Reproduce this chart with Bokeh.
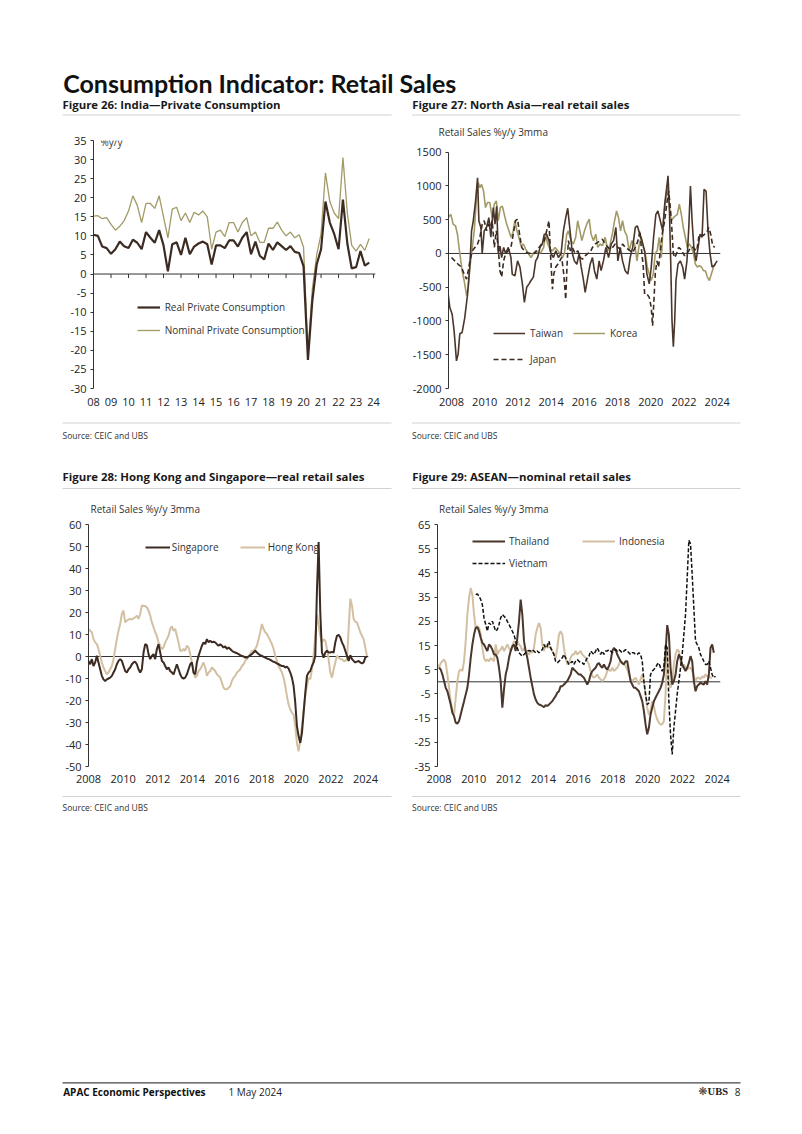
import math
from bokeh.plotting import figure
from bokeh.models import Range1d, FixedTicker, Span, Legend, LegendItem, Label, Spacer
from bokeh.layouts import column, row
from bokeh.embed import file_html
from bokeh.resources import INLINE
from bokeh.core.properties import value

FONT = "Open Sans"
TFONT = "Lato"

DARK = "#3c2b22"
BROWN = "#4a362b"
OLIVE = "#a29a67"
TAN = "#d3c0a2"
AXIS = "#333333"
GREY_RULE = "#d2d2d2"

# ---------------- Figure 26: India (quarterly, 2008Q1-2023Q4) ----------------
INDIA_START = 2008.0
INDIA_STEP = 0.25
india_real = [10.3, 10.0, 7.2, 6.8, 5.3, 6.5, 8.5, 7.3, 6.8, 9.0, 8.2, 6.5,
              11.0, 9.5, 8.2, 11.5, 7.5, 0.7, 7.8, 8.3, 5.0, 9.5, 5.2, 7.2,
              8.0, 8.5, 7.8, 2.5, 7.5, 7.5, 6.8, 8.8, 8.8, 7.2, 9.5, 11.0,
              5.2, 8.5, 4.8, 3.8, 8.0, 6.3, 8.3, 7.3, 6.3, 7.3, 5.8, 5.5,
              2.0, -22.5, -7.0, 2.5, 6.5, 19.0, 13.5, 10.5, 6.5, 19.5, 8.0, 1.5,
              1.8, 6.0, 2.2, 3.0]
india_nominal = [15.2, 15.3, 14.5, 14.8, 13.0, 11.5, 12.5, 14.0, 16.5, 20.5, 18.0, 13.5,
                 18.5, 18.5, 17.2, 20.5, 15.0, 9.5, 17.0, 17.5, 14.0, 16.0, 13.5, 16.2,
                 15.5, 16.5, 15.0, 6.5, 11.0, 11.5, 9.8, 13.5, 13.5, 11.0, 13.5, 14.8,
                 10.0, 11.0, 8.3, 8.3, 12.0, 12.0, 13.6, 11.5, 10.0, 11.0, 9.5, 10.3,
                 7.0, -20.5, -4.0, 5.0, 10.5, 26.5, 19.0, 16.0, 14.5, 30.5, 16.0, 7.5,
                 6.0, 7.8, 6.2, 9.3]
india_yticks = list(range(-30, 40, 5))
india_years = list(range(2008, 2025))
india_year_labels = {y: "%02d" % (y % 100) for y in india_years}

# ---------------- Figure 27: North Asia (decimal year, value) ----------------
taiwan = [(2007.80, -600), (2007.90, -800), (2008.04, -900), (2008.16, -1150), (2008.30, -1590),
          (2008.40, -1490), (2008.50, -1190), (2008.64, -1170), (2008.80, -950), (2008.97, -600),
          (2009.11, -160), (2009.21, 335), (2009.31, 480), (2009.45, 780), (2009.57, 1120),
          (2009.65, 480), (2009.77, 385), (2009.85, 0), (2009.97, 335), (2010.11, 385),
          (2010.25, 530), (2010.37, 240), (2010.52, 680), (2010.62, 435), (2010.72, 700),
          (2010.82, 0), (2010.92, 110), (2011.02, -60), (2011.14, 90), (2011.26, 0),
          (2011.42, 90), (2011.58, -60), (2011.66, -310), (2011.82, -330), (2011.98, -110),
          (2012.12, -200), (2012.27, -450), (2012.39, -725), (2012.53, -500), (2012.67, -450),
          (2012.79, -400), (2012.93, -350), (2013.07, -110), (2013.19, -60), (2013.33, 90),
          (2013.47, 140), (2013.59, 285), (2013.73, 285), (2013.87, 190), (2013.99, 0),
          (2014.14, -60), (2014.28, 40), (2014.44, -60), (2014.60, 0), (2014.74, 335),
          (2014.88, 530), (2015.00, 670), (2015.14, 335), (2015.28, 0), (2015.40, -110),
          (2015.55, -160), (2015.69, 0), (2015.81, -200), (2015.95, -400), (2016.05, -575),
          (2016.21, -350), (2016.35, -160), (2016.49, -60), (2016.61, -255), (2016.75, -380),
          (2016.89, -110), (2017.01, -255), (2017.15, -110), (2017.30, 90), (2017.46, -60),
          (2017.62, 140), (2017.76, 190), (2017.90, 385), (2018.02, -110), (2018.16, 90),
          (2018.30, -110), (2018.46, -255), (2018.62, -305), (2018.76, -60), (2018.91, 90),
          (2019.07, 385), (2019.19, 410), (2019.31, 310), (2019.47, 190), (2019.63, 40),
          (2019.77, -305), (2019.91, -450), (2020.03, -200), (2020.17, 240), (2020.31, 580),
          (2020.43, 630), (2020.58, 480), (2020.72, 335), (2020.84, 730), (2020.96, 975),
          (2021.04, 1150), (2021.12, 680), (2021.20, -110), (2021.28, -1000), (2021.36, -1380),
          (2021.44, -1000), (2021.52, -400), (2021.64, -160), (2021.78, -110), (2021.92, -200),
          (2022.04, -380), (2022.18, -110), (2022.29, 385), (2022.39, 1000), (2022.49, 480),
          (2022.61, 40), (2022.73, -110), (2022.85, 90), (2022.97, 285), (2023.09, 240),
          (2023.21, 950), (2023.33, 925), (2023.45, 335), (2023.57, 0), (2023.69, -200),
          (2023.81, -180), (2024.00, -110)]
korea = [(2007.80, 530), (2007.96, 580), (2008.10, 435), (2008.24, 410), (2008.36, 285),
         (2008.50, 0), (2008.64, -255), (2008.76, -400), (2008.91, -625), (2009.01, -500),
         (2009.11, -200), (2009.21, 0), (2009.37, 335), (2009.51, 830), (2009.61, 1050),
         (2009.71, 975), (2009.81, 1025), (2009.93, 925), (2010.05, 680), (2010.17, 755),
         (2010.31, 755), (2010.45, 530), (2010.58, 730), (2010.70, 780), (2010.82, 485),
         (2010.94, 680), (2011.06, 700), (2011.18, 580), (2011.32, 435), (2011.46, 335),
         (2011.58, 240), (2011.70, 310), (2011.82, 485), (2011.94, 335), (2012.06, 240),
         (2012.18, 115), (2012.33, 140), (2012.47, 65), (2012.63, 0), (2012.79, -60),
         (2012.93, 0), (2013.07, 40), (2013.23, 0), (2013.39, 15), (2013.55, 90),
         (2013.67, 285), (2013.79, 140), (2013.94, 65), (2014.08, 40), (2014.24, 90),
         (2014.40, 40), (2014.54, 0), (2014.68, -60), (2014.80, 0), (2014.94, 285),
         (2015.04, 335), (2015.20, 190), (2015.34, 140), (2015.48, 240), (2015.60, 485),
         (2015.73, 335), (2015.85, 190), (2016.01, 335), (2016.15, 435), (2016.29, 510),
         (2016.41, 285), (2016.55, 190), (2016.69, 285), (2016.81, 90), (2016.95, 140),
         (2017.09, 115), (2017.25, 240), (2017.42, 40), (2017.56, 140), (2017.70, 310),
         (2017.82, 485), (2017.94, 630), (2018.06, 530), (2018.18, 335), (2018.30, 485),
         (2018.42, 335), (2018.56, 260), (2018.70, 40), (2018.86, 190), (2019.03, 140),
         (2019.17, -110), (2019.31, 140), (2019.43, 240), (2019.55, 90), (2019.67, 0),
         (2019.79, -200), (2019.91, -305), (2020.03, -400), (2020.15, -305), (2020.27, 0),
         (2020.39, 40), (2020.51, 240), (2020.64, -60), (2020.76, 485), (2020.88, 780),
         (2021.00, 975), (2021.12, 680), (2021.24, 485), (2021.36, 530), (2021.48, 555),
         (2021.60, 580), (2021.72, 730), (2021.84, 580), (2021.96, 385), (2022.08, 240),
         (2022.20, 90), (2022.33, 140), (2022.45, 90), (2022.57, 0), (2022.69, -160),
         (2022.81, -200), (2022.93, -180), (2023.05, -200), (2023.17, -255), (2023.29, -255),
         (2023.41, -350), (2023.53, -400), (2023.65, -305), (2023.78, -200), (2023.90, -160)]
japan = [(2008.00, -60), (2008.20, -110), (2008.40, -160), (2008.60, -200), (2008.76, -305),
         (2008.91, -380), (2009.01, -255), (2009.11, -110), (2009.25, 40), (2009.41, 90),
         (2009.57, 140), (2009.71, 240), (2009.85, 435), (2009.97, 485), (2010.11, 335),
         (2010.21, 435), (2010.33, 385), (2010.45, 485), (2010.58, 90), (2010.70, 335),
         (2010.82, 65), (2010.92, -255), (2011.02, -350), (2011.14, -110), (2011.26, 0),
         (2011.42, 40), (2011.58, 90), (2011.72, 285), (2011.86, 485), (2011.98, 510),
         (2012.10, 285), (2012.23, 90), (2012.39, 40), (2012.53, 15), (2012.67, 0),
         (2012.83, 15), (2012.99, 0), (2013.13, 40), (2013.27, 90), (2013.43, 140),
         (2013.59, 190), (2013.73, 335), (2013.87, 485), (2013.96, 0), (2014.08, -530),
         (2014.16, -305), (2014.28, -200), (2014.40, -160), (2014.52, -110), (2014.64, -60),
         (2014.76, -305), (2014.88, -680), (2014.96, -160), (2015.04, 190), (2015.16, 40),
         (2015.28, 90), (2015.44, 0), (2015.61, 40), (2015.75, -60), (2015.89, -85),
         (2016.05, -35), (2016.21, 0), (2016.35, 15), (2016.49, 90), (2016.65, 140),
         (2016.81, 165), (2016.95, 190), (2017.09, 210), (2017.25, 140), (2017.42, 90),
         (2017.56, 65), (2017.70, 90), (2017.86, 140), (2018.02, 90), (2018.16, 65),
         (2018.30, 140), (2018.46, 90), (2018.62, 65), (2018.76, 40), (2018.91, 15),
         (2019.07, 90), (2019.23, 190), (2019.35, 335), (2019.43, 90), (2019.55, -200),
         (2019.63, -600), (2019.77, -600), (2019.91, -650), (2020.03, -800), (2020.11, -1070),
         (2020.19, -700), (2020.27, -305), (2020.37, -110), (2020.47, -200), (2020.60, 90),
         (2020.72, 335), (2020.84, 485), (2020.96, 730), (2021.08, 925), (2021.18, 680),
         (2021.28, 335), (2021.36, 0), (2021.44, -60), (2021.56, 0), (2021.68, 90),
         (2021.80, 65), (2021.92, 15), (2022.04, -35), (2022.17, 0), (2022.29, 40),
         (2022.41, 90), (2022.53, 90), (2022.65, 65), (2022.77, 40), (2022.89, 240),
         (2023.01, 285), (2023.13, 260), (2023.25, 285), (2023.37, 310), (2023.49, 385),
         (2023.61, 285), (2023.73, 115), (2023.85, 90)]
nasia_yticks = list(range(-2000, 2000, 500))

# ---------------- Figure 28: HK & Singapore (readings every ~0.0963 yr) ----------------
HKSG_START = 2008.0
HKSG_STEP = 0.0963
singapore = [-2, -3.5, -1.2, -4.3, -2.7, 0.3, -2.7, -5.8, -8.8, -10.4,
             -11.1, -10.4, -10, -9.6, -8.8, -7.3, -5.8, -3.5, -2, -1.2,
             -2, -4.3, -6.6, -7.3, -5.8, -5, -3.5, -2.7, -2.4, -3.5,
             -5.8, -7.3, -5.8, 1.8, 5.6, 5.2, 1.1, -1.2, 0.3, 1.1,
             -1.2, 3.4, 5.6, 1.8, -2, -2.7, -4.3, -5.8, -5, -6.6,
             -7.3, -8.1, -5.8, -3.5, -5.8, -8.1, -9.6, -10, -9.6, -8.1,
             -5.8, -3.5, -2.7, -7.3, -8.1, -2.7, 0.3, 2.6, 4.9, 6.4,
             5.6, 7.9, 6.4, 7.2, 6.4, 6.7, 6.4, 5.6, 4.9, 5.6,
             4.9, 4.1, 4.6, 3.4, 4.1, 3.4, 2.6, 2.1, 1.8, 1.5,
             1.1, 0.6, 0.3, 0, -0.5, -0.5, 0, 0.6, 1.1, 1.8,
             2.6, 1.8, 1.1, 0.6, 0.3, -0.2, -0.5, -0.9, -1.2, -1.5,
             -2, -2.4, -2.7, -3.2, -3.5, -4, -4.3, -4.3, -5, -4.6,
             -5.5, -7.3, -9.6, -13.4, -21, -31.7, -36.3, -39.3, -34.7, -25.6,
             -16.5, -8.8, -7.3, -6.6, -4.3, -2.7, 0.3, 30, 52, 20,
             1.8, -0.5, 1.8, 2.6, 1.8, 1.8, 2.1, 1.8, 6.4, 9.4,
             9.8, 8.7, 6.4, 4.9, 2.6, 0.3, -2, 0.6, -1.2, -2,
             -2.7, -2.3, -2, -2.7, -3.2, -2.7, -0.5, 0]
hongkong = [12.5, 11.7, 11, 7.9, 6.4, 5.6, 3.4, 0.3, -2.7, -5,
            -6.6, -8.1, -7.3, -5.8, -4.3, -1.2, 3.4, 7.9, 11.7, 14.8,
            19.3, 20.9, 15.5, 16.3, 16.8, 17.1, 16.8, 17.4, 17.8, 18.6,
            17.1, 19.3, 23.2, 22.9, 22.9, 22.4, 20.9, 18.6, 15.5, 13.3,
            11, 9.4, 6.4, 4.9, 3.4, 4.1, 6.4, 7.9, 9.4, 12.5,
            13.7, 11.7, 12.5, 9.4, 6.4, 2.6, 2.6, 3.4, 2.6, 4.9,
            4.1, 1.1, -2.7, -7.3, -9.6, -8.8, -6.6, -5.8, -4.3, -2.7,
            -5, -8.8, -7.3, -6.6, -5, -5.8, -6.6, -8.1, -8.8, -9.6,
            -11.9, -14.2, -14.9, -14.9, -14.2, -13.4, -11.1, -9.6, -8.8, -7.3,
            -6.6, -5.8, -4.3, -3.5, -2, -1.2, 0.3, 1.1, 2.6, 2.6,
            3.4, 4.9, 7.9, 11, 14.8, 12.5, 11, 10.2, 8.7, 7.2,
            5.6, 3.4, 0.3, -2, -4.3, -5.8, -7.3, -9.6, -13.4, -18,
            -21.8, -24.1, -25.6, -26.4, -31.7, -39.3, -43.1, -37.8, -31.7, -24.1,
            -18, -13.4, -9.6, -10.4, -5.8, 0.3, 9.4, 19.3, 14, 9.4,
            6.4, 7.9, 7.2, 3.4, -1.2, -7.3, -9.6, -5.8, -2.7, 0.3,
            -0.5, -1.2, -1.2, -2, -2, -1.2, 12.5, 26.2, 23.2, 17.1,
            15.8, 15.5, 13.3, 11, 9.4, 7.9, 4.1, 0.3]
hksg_yticks = list(range(-50, 70, 10))

# ---------------- Figure 29: ASEAN (readings every ~0.0958 yr) ----------------
ASEAN_STEP = 0.0958
THAI_START = 2008.0
INDO_START = 2007.904
VIET_START = 2010.107
thailand = [5.8, 5.1, 3, 0.3, -2.5, -3.9, -6.6, -9.4, -12.8, -14.2,
            -16.9, -17.3, -16.2, -13.5, -10.7, -8, -5.2, -2.5, 3, 9.9,
            15.4, 19.5, 22.3, 22.6, 20.9, 18.2, 16.1, 15.4, 14, 12.7,
            15.4, 14.7, 13.3, 11.3, 11.3, 9.9, 5.8, 0.3, -10.7, -3,
            3, 5.8, 9.9, 12.7, 14.7, 15.4, 12.7, 18.2, 25, 34,
            27.8, 16.8, 12.7, 9.9, 5.8, 1.7, -1.8, -5.2, -7.3, -8.7,
            -9.4, -9.6, -10, -10.5, -9.6, -10, -9.4, -8.7, -8, -6.9,
            -5.9, -4.5, -3.9, -1.8, -1.8, -1.1, -0.4, 0.3, 1.7, 3,
            5.8, 5.1, 4.4, 3.7, 3, 3, 2.3, 1.7, 0.3, -1.1,
            0.3, 3, 4.4, 5.1, 5.8, 7.2, 7.8, 6.5, 5.8, 7.2,
            5.8, 5.1, 6.5, 8.5, 12.7, 14, 13.3, 11.3, 9.9, 8.5,
            7.8, 7.2, 8.5, 8.5, 4.4, 0.3, -1.1, -2.5, -2.5, -3.2,
            -3.9, -5.9, -8, -12.1, -17.6, -21.7, -19, -13.5, -10.7, -8,
            -6.6, -5.2, -3.9, -2.5, -0.4, 3, 12, 23.4, 19.5, 5.8,
            -1.1, 0.3, 3, 8.5, 11.3, 9.9, 7.2, 5.8, 4.4, 5.8,
            7.8, 10.6, 8.5, 0.3, -3.9, -1.8, -1.1, -0.4, -0.8, -1.1,
            0.3, -1.1, 3, 14, 15.4, 12]
indonesia = [7.2, 5.8, 7.8, 8.5, 9.2, 7.8, 3, -2.5, -8, -12.1,
             -13.5, -6.6, 0.3, 4.4, 5.1, 4.4, 8.5, 16.8, 27.8, 34.7,
             38.8, 36, 27.8, 22.3, 23, 22.3, 19.5, 14, 9.9, 8.5,
             9.2, 8.5, 9.9, 9.2, 8.5, 15.4, 11.3, 12.7, 13.3, 14.7,
             12.7, 14, 15.4, 14, 12.7, 14.7, 16.8, 16.1, 16.8, 15.4,
             14.7, 12.7, 14, 12.7, 12, 11.3, 12.7, 12, 14, 19.5,
             22.3, 24.3, 22.3, 15.4, 12.7, 15.4, 14, 14.7, 14, 12.7,
             11.3, 9.9, 14, 19.5, 20.9, 19.5, 14, 9.9, 7.2, 7.8,
             9.9, 11.3, 11.3, 12.7, 11.3, 12, 12.7, 11.3, 10.6, 9.9,
             8.5, 7.2, 4.4, 2.3, 1.7, 2.3, 3, 1.7, 1, 0.3,
             1, 2.3, 4.4, 5.1, 4.4, 5.8, 4.4, 5.1, 5.8, 7.2,
             8.5, 7.8, 7.2, 6.5, 5.1, 3, 1, 0.3, 1, 1.7,
             0.3, -1.1, 1, 3, 0.3, -5.2, -10.7, -13.5, -12.1, -8,
             -10, -13.5, -15.5, -16.9, -17.6, -17.6, -16.2, -5.2, 14, 0.3,
             -2.5, 0.3, 7.2, 11.3, 13.3, 12.7, 8.5, 5.8, 7.2, 5.8,
             5.1, 5.8, 5.8, 4.4, 2.3, 0.3, 1.7, 1.7, 1, 2.3,
             1.7, 3, 2.3, 2.3, 1.7, 1.7]
vietnam = [36, 36.3, 35.4, 34, 31.9, 26.4, 23.7, 20.9, 24.3, 23.7,
           25, 23, 20.9, 21.6, 23.7, 26.4, 27.8, 27.1, 26.4, 25,
           23.7, 22.3, 20.9, 19.5, 16.8, 14, 12, 11.3, 10.6, 11.3,
           12, 12.7, 12.9, 12.7, 13.3, 12.7, 12, 12.7, 12, 12.7,
           13.3, 15.4, 14, 14.7, 16.8, 14, 12.7, 11.3, 8.5, 7.8,
           8.5, 9.2, 9.9, 11.3, 9.9, 8.5, 7.2, 7.8, 8.5, 7.2,
           8.5, 9.2, 8.5, 7.8, 7.8, 7.2, 8.5, 9.9, 10.6, 12.7,
           12, 11.3, 12.7, 14, 12.7, 11.3, 12.7, 11.3, 12.7, 12.7,
           13.3, 12.7, 12, 12.7, 13.3, 12.7, 13.3, 12.7, 12, 12.7,
           13.3, 12.7, 12, 11.3, 12, 12, 11.3, 11.3, 12, 11.3,
           8.5, 0.3, -5.2, -9.4, -8.7, 3, 4.4, 5.1, 5.8, 7.2,
           7.8, 5.8, 4.4, 5.8, 15.4, 14, -8, -21.7, -30, -19,
           -12.1, -5.2, 0.3, 5.8, 11.3, 19.5, 27.8, 42.9, 58.5, 57,
           44.3, 30.5, 16.8, 15.4, 14, 11.3, 9.9, 8.5, 7.2, 7.2,
           8.5, 5.8, 3, 1.7, 2.3]
asean_yticks = list(range(-35, 75, 10))

year_ticks_2 = list(range(2008, 2025, 2))

UNITS_LABEL = "Retail Sales %y/y 3mma"


# ---------------- helpers ----------------
def band(w, h):
    p = figure(width=w, height=h, x_range=Range1d(0, w), y_range=Range1d(h, 0),
               output_backend="svg", toolbar_location=None, min_border=0, title=None,
               x_axis_location=None, y_axis_location=None)
    p.grid.visible = False
    p.outline_line_color = None
    return p


def put_text(p, x, y, s, size, bold=False, color="#1a1a1a", font=FONT, align="left"):
    # y is the wanted baseline; the renderer sits text ~0.37em low, so lift it
    px = float(size.replace("px", ""))
    p.text(x=[x], y=[y - 0.37 * px], text=[s], text_font=value(font), text_font_size=value(size),
           text_font_style="bold" if bold else "normal", text_color=color,
           text_baseline="alphabetic", text_align=align)


def hline(p, x0, x1, y, color, width=1.0):
    p.segment(x0=[x0], y0=[y], x1=[x1], y1=[y], line_color=color, line_width=width)


def chart(w, h, xr, yr, ybounds, bl, br, bt, bb, yticks, xticks, overrides=None, xstand=9,
          title=None, toff=0, tstand=10):
    p = figure(width=w, height=h, x_range=Range1d(*xr), y_range=Range1d(*yr),
               output_backend="svg", toolbar_location=None, title=title,
               min_border_left=bl, min_border_right=br, min_border_top=bt, min_border_bottom=bb)
    p.outline_line_color = None
    p.grid.visible = False
    ya = p.left[0]
    ya.ticker = FixedTicker(ticks=yticks)
    ya.bounds = ybounds
    ya.major_label_overrides = {t: str(t) for t in yticks}
    ya.axis_line_color = AXIS
    ya.major_tick_line_color = AXIS
    ya.major_tick_out = 3
    ya.major_tick_in = 0
    ya.minor_tick_out = 0
    ya.minor_tick_in = 0
    ya.major_label_standoff = 4
    ya.major_label_text_font = FONT
    ya.major_label_text_font_size = "11px"
    ya.major_label_text_color = "#222222"
    xa = p.below[0]
    xa.ticker = FixedTicker(ticks=xticks)
    xa.major_label_overrides = overrides if overrides else {t: str(t) for t in xticks}
    xa.axis_line_color = None
    xa.major_tick_out = 0
    xa.major_tick_in = 0
    xa.minor_tick_out = 0
    xa.minor_tick_in = 0
    xa.major_label_standoff = xstand
    xa.major_label_text_font = FONT
    xa.major_label_text_font_size = "11px"
    xa.major_label_text_color = "#222222"
    if title:
        p.title.align = "left"
        p.title.offset = toff
        p.title.standoff = tstand
        p.title.text_font = FONT
        p.title.text_font_size = "10px"
        p.title.text_font_style = "normal"
        p.title.text_color = "#333333"
    return p


def leg(p, r, label, x, y, gw, standoff=5):
    lg = Legend(items=[LegendItem(label=label, renderers=[r])], location=(x, y),
                orientation="vertical", padding=0, margin=0, spacing=0,
                glyph_width=gw, glyph_height=20, label_height=20, label_width=10,
                label_standoff=standoff, border_line_color=None, background_fill_alpha=0,
                label_text_font=FONT, label_text_font_size="10px", label_text_color="#333333")
    p.add_layout(lg, "center")


# ---------------- header band (page y 8..117) ----------------
W = 786
head = band(W, 109)
put_text(head, 54.7, 83.7, "Consumption Indicator: Retail Sales", "25px", bold=True, color="#111111", font=TFONT)
put_text(head, 54, 100.3, "Figure 26: India\u2014Private Consumption", "11.4px", bold=True)
put_text(head, 403.7, 100.3, "Figure 27: North Asia\u2014real retail sales", "11.4px", bold=True)
hline(head, 54, 383, 106.5, GREY_RULE)
hline(head, 403.5, 732, 106.5, GREY_RULE)

# ---------------- chart 1: India (page y 117..418) ----------------
ix = [INDIA_START + INDIA_STEP * i for i in range(len(india_real))]
p1 = chart(397, 301, (2008.0, 2024.11), (-30, 35), (-30, 35), 85, 30, 23, 30,
           india_yticks, india_years, overrides=india_year_labels)
p1.add_layout(Span(location=0, dimension="width", line_color=AXIS, line_width=1))
p1.ray(x=india_years, y=[0] * len(india_years), length=4, length_units="screen",
       angle=-math.pi / 2, line_color=AXIS, line_width=1)
r_nom = p1.line(ix, india_nominal, line_color=OLIVE, line_width=1.3)
r_real = p1.line(ix, india_real, line_color=DARK, line_width=2.2)
p1.add_layout(Label(x=2008.4, y=34.6, text="%y/y", text_baseline="middle",
                    text_font=FONT, text_font_size="10px", text_color="#333333"))
leg(p1, r_real, "Real Private Consumption", 43.7, 71.3, 23)
leg(p1, r_nom, "Nominal Private Consumption", 43.7, 48, 23)

# ---------------- chart 2: North Asia ----------------
p2 = chart(389, 301, (2007.82, 2024.2), (-2000, 1673.3), (-2000, 1500), 43, 74, 23, 30,
           nasia_yticks, year_ticks_2, title=UNITS_LABEL, toff=-10, tstand=3)
p2.add_layout(Span(location=0, dimension="width", line_color=AXIS, line_width=1, level="underlay"))
r_ko = p2.line([t for t, v in korea], [v for t, v in korea], line_color=OLIVE, line_width=1.6)
r_tw = p2.line([t for t, v in taiwan], [v for t, v in taiwan], line_color=BROWN, line_width=1.6)
r_jp = p2.line([t for t, v in japan], [v for t, v in japan], line_color=DARK, line_width=1.6,
               line_dash="5 3")
leg(p2, r_tw, "Taiwan", 45, 45, 32)
leg(p2, r_ko, "Korea", 125, 45, 32)
leg(p2, r_jp, "Japan", 45, 19, 32)

# ---------------- middle band (page y 418..490) ----------------
mid = band(W, 72)
hline(mid, 54, 383, 4.5, GREY_RULE)
hline(mid, 403.5, 732, 4.5, GREY_RULE)
put_text(mid, 54, 19.7, "Source: CEIC and UBS", "8.5px", color="#333333")
put_text(mid, 403.5, 19.7, "Source: CEIC and UBS", "8.5px", color="#333333")
put_text(mid, 54, 62.5, "Figure 28: Hong Kong and Singapore\u2014real retail sales", "11.4px", bold=True)
put_text(mid, 403.7, 62.5, "Figure 29: ASEAN\u2014nominal retail sales", "11.4px", bold=True)
hline(mid, 54, 383, 70, GREY_RULE)
hline(mid, 403.5, 732, 70, GREY_RULE)

# ---------------- chart 3: HK & Singapore (page y 490..790) ----------------
hx = [HKSG_START + HKSG_STEP * i for i in range(len(hongkong))]
sx = [HKSG_START + HKSG_STEP * i for i in range(len(singapore))]
p3 = chart(397, 300, (2008.0, 2024.17), (-50, 60), (-50, 60), 80, 37, 34, 24,
           hksg_yticks, year_ticks_2, xstand=8, title=UNITS_LABEL, toff=2, tstand=17)
p3.add_layout(Span(location=0, dimension="width", line_color=AXIS, line_width=1, level="underlay"))
r_hk = p3.line(hx, hongkong, line_color=TAN, line_width=2)
r_sg = p3.line(sx, singapore, line_color=DARK, line_width=2)
leg(p3, r_sg, "Singapore", 56.7, 209, 25, standoff=2)
leg(p3, r_hk, "Hong Kong", 151.7, 209, 25, standoff=3)

# ---------------- chart 4: ASEAN ----------------
tx = [THAI_START + ASEAN_STEP * i for i in range(len(thailand))]
nx = [INDO_START + ASEAN_STEP * i for i in range(len(indonesia))]
vx = [VIET_START + ASEAN_STEP * i for i in range(len(vietnam))]
p4 = chart(389, 300, (2007.91, 2024.19), (-35, 65), (-35, 65), 32, 74, 34, 24,
           asean_yticks, year_ticks_2, xstand=8, title=UNITS_LABEL, toff=1.6, tstand=17)
p4.add_layout(Span(location=0, dimension="width", line_color=AXIS, line_width=1, level="underlay"))
r_id = p4.line(nx, indonesia, line_color=TAN, line_width=2)
r_th = p4.line(tx, thailand, line_color=BROWN, line_width=2)
r_vn = p4.line(vx, vietnam, line_color="#111111", line_width=1.5, line_dash="4 2")
leg(p4, r_th, "Thailand", 35, 215.3, 33, standoff=4)
leg(p4, r_id, "Indonesia", 145, 215.3, 33, standoff=4)
leg(p4, r_vn, "Vietnam", 35, 192.7, 33, standoff=4)

# ---------------- bottom band (page y 790..1126) ----------------
bot = band(W, 336)
hline(bot, 54, 383, 6, GREY_RULE)
hline(bot, 403.5, 732, 6, GREY_RULE)
put_text(bot, 54, 20, "Source: CEIC and UBS", "8.5px", color="#333333")
put_text(bot, 403.5, 20, "Source: CEIC and UBS", "8.5px", color="#333333")
hline(bot, 54, 732, 292.3, "#444444", 1.2)
put_text(bot, 54.7, 305, "APAC Economic Perspectives", "10px", bold=True, color="#111111")
put_text(bot, 220, 305, "1 May 2024", "10px", color="#222222")
put_text(bot, 699, 305, "\u274B", "11px", color="#444444", font="DejaVu Sans", align="right")
put_text(bot, 719.5, 305, "UBS", "10.5px", bold=True, color="#222222", font="Liberation Serif", align="right")
put_text(bot, 732, 305, "8", "10px", color="#222222", align="right")

page = column(head, row(p1, p2), mid, row(p3, p4), bot)
layout = column(Spacer(width=794, height=8), row(Spacer(width=8, height=1118), page))
open("out.html", "w").write(file_html(layout, INLINE))
